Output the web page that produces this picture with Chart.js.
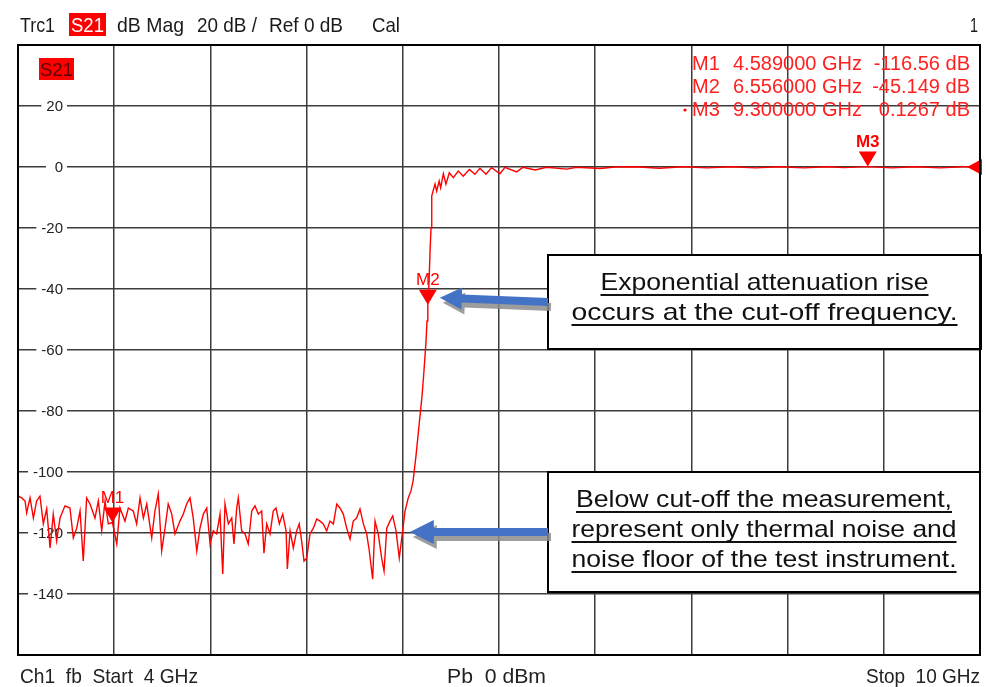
<!DOCTYPE html>
<html><head><meta charset="utf-8">
<script src="https://cdn.jsdelivr.net/npm/chart.js@4.4.1/dist/chart.umd.min.js"></script>
<style>html,body{margin:0;padding:0;background:#fff;}canvas{display:block;}</style>
</head><body>
<canvas id="c" width="986" height="687"></canvas>
<script>
// ---- Data ----
const freqGHz = [
4.000,
4.002,4.023,4.044,4.054,4.075,4.096,4.116,4.137,4.158,4.179,
4.200,4.220,4.241,4.262,4.293,4.324,4.345,4.366,4.387,4.407,
4.428,4.449,4.480,4.501,4.522,4.543,4.563,4.589,4.616,4.636,
4.667,4.688,4.719,4.740,4.761,4.782,4.803,4.834,4.854,4.875,
4.896,4.917,4.937,4.959,4.979,5.010,5.031,5.052,5.073,5.093,
5.115,5.135,5.156,5.177,5.198,5.218,5.239,5.260,5.277,5.291,
5.312,5.333,5.347,5.364,5.374,5.395,5.416,5.436,5.458,5.478,
5.499,5.520,5.534,5.551,5.572,5.592,5.609,5.630,5.651,5.672,
5.680,5.697,5.717,5.738,5.754,5.769,5.784,5.801,5.821,5.842,
5.863,5.884,5.904,5.925,5.946,5.967,5.988,6.008,6.029,6.050,
6.071,6.091,6.112,6.133,6.154,6.175,6.191,6.212,6.227,6.247,
6.268,6.283,6.300,6.320,6.337,6.358,6.378,6.399,6.414,6.434,
6.451,6.464,6.482,6.501,6.520,6.532,6.545,6.551,6.556,6.564,
6.570,6.576,6.579,6.582,6.588,6.601,6.611,6.627,6.636,6.653,
6.669,6.690,6.715,6.746,6.777,6.815,6.850,6.881,6.919,6.954,
7.006,7.037,7.110,7.150,7.225,7.297,7.422,7.485,7.630,7.724,
7.850,8.000,8.150,8.300,8.450,8.600,8.750,8.900,9.050,9.150,
9.300,9.450,9.600,9.750,9.900,10.000
];
const s21dB = [
-108.0,
-107.9,-108.5,-109.5,-113.4,-108.5,-115.1,-109.5,-107.9,-117.0,-112.1,
-124.9,-113.8,-122.6,-115.1,-111.1,-111.8,-121.6,-118.4,-112.8,-129.2,
-108.5,-110.5,-115.1,-109.5,-119.3,-109.5,-117.0,-116.56,-123.6,-111.8,
-116.1,-111.8,-112.8,-117.0,-108.5,-115.1,-110.5,-121.6,-112.8,-107.2,
-125.9,-118.4,-110.5,-113.8,-120.3,-116.1,-113.8,-110.5,-108.5,-115.1,
-125.9,-118.4,-113.8,-111.8,-123.6,-119.3,-120.3,-113.8,-133.4,-110.5,
-117.0,-115.1,-123.6,-111.8,-108.5,-119.3,-120.3,-123.6,-112.8,-111.1,
-113.8,-112.8,-126.6,-117.0,-120.3,-112.8,-111.8,-117.0,-113.8,-119.3,
-131.8,-119.3,-124.9,-119.3,-117.0,-122.6,-129.2,-128.2,-120.3,-118.4,
-115.4,-116.1,-117.0,-119.3,-116.1,-117.0,-110.5,-111.8,-113.8,-118.4,
-122.0,-116.1,-115.1,-112.1,-117.0,-120.3,-125.9,-135.1,-116.1,-120.3,
-128.2,-132.5,-118.4,-116.1,-114.4,-119.3,-128.2,-119.3,-112.8,-108.5,
-106.2,-103.0,-94.8,-84.9,-75.1,-66.9,-57.0,-50.5,-45.149,-37.4,
-27.5,-20.0,-12.8,-9.5,-8.0,-5.6,-7.9,-4.6,-6.8,-2.2,
-5.6,-1.9,-3.5,-1.3,-3.0,-0.8,-2.4,-0.4,-2.4,-0.2,
-2.2,-0.1,-1.6,-0.1,-1.0,-0.1,-0.7,-0.1,-0.5,0.0,
0.1,-0.4,0.1,-0.3,0.1,-0.3,0.1,-0.3,0.1,-0.2,
0.1267,-0.3,0.1,-0.3,0.1,0.05
];
const markerNames = ['M1','M2','M3'];
const markerFreqs = [4.589, 6.556, 9.3];
const markerValues = ['-116.56', '-45.149', '0.1267'];
const headerTexts = ['Trc1', 'S21', 'dB Mag', '20 dB /', 'Ref 0 dB', 'Cal', '1'];
const footerTexts = ['Ch1  fb  Start  4 GHz', 'Pb  0 dBm', 'Stop  10 GHz'];
const note1 = ['Exponential attenuation rise', 'occurs at the cut-off frequency.'];
const note2 = ['Below cut-off the measurement,', 'represent only thermal noise and', 'noise floor of the test instrument.'];

const FF = '"Liberation Sans", Arial, sans-serif';

function txt(ctx, s, x, y, size, color, align, w, bold) {
  ctx.save();
  ctx.font = (bold ? 'bold ' : '') + size + 'px ' + FF;
  const m = ctx.measureText(s).width;
  const sx = w ? w / m : 1;
  ctx.translate(x, y);
  ctx.scale(sx, 1);
  ctx.textAlign = align || 'left';
  ctx.textBaseline = 'alphabetic';
  ctx.fillStyle = color;
  ctx.fillText(s, 0, 0);
  ctx.restore();
}

function arrow(ctx, x1, y1, x2, y2, shaftW, headLen, headW, color) {
  const ang = Math.atan2(y2 - y1, x2 - x1);
  const len = Math.hypot(x2 - x1, y2 - y1);
  ctx.save();
  ctx.translate(x1, y1);
  ctx.rotate(ang);
  ctx.beginPath();
  ctx.moveTo(0, -shaftW / 2);
  ctx.lineTo(len - headLen, -shaftW / 2);
  ctx.lineTo(len - headLen, -headW / 2);
  ctx.lineTo(len, 0);
  ctx.lineTo(len - headLen, headW / 2);
  ctx.lineTo(len - headLen, shaftW / 2);
  ctx.lineTo(0, shaftW / 2);
  ctx.closePath();
  ctx.fillStyle = color;
  ctx.fill();
  ctx.restore();
}

function noteBox(ctx, x, y, w, h, lines, firstBase, step, size, tw) {
  ctx.save();
  ctx.fillStyle = '#fff';
  ctx.fillRect(x, y, w, h);
  ctx.strokeStyle = '#000';
  ctx.lineWidth = 2;
  ctx.strokeRect(x, y, w, h);
  const cx = x + w / 2;
  lines.forEach((s, i) => {
    const by = y + firstBase + i * step;
    txt(ctx, s, cx, by, size, '#111', 'center', tw[i]);
    ctx.fillStyle = '#111';
    ctx.fillRect(cx - tw[i] / 2, by + 4, tw[i], 2);
  });
  ctx.restore();
}

const vnaPlugin = {
  id: 'vna',
  beforeDatasetsDraw(chart) {
    const ctx = chart.ctx, ys = chart.scales.y, a = chart.chartArea;
    ctx.save();
    ys.ticks.forEach(t => {
      if (t.value <= ys.min || t.value >= ys.max) return;
      const py = ys.getPixelForValue(t.value);
      const label = String(t.value);
      ctx.font = '15px ' + FF;
      const w = Math.max(ctx.measureText(label).width, 12);
      const rx = a.left + 45;
      ctx.fillStyle = '#fff';
      ctx.fillRect(rx - w - 5, py - 3, w + 9, 6);
      txt(ctx, label, rx, py + 5, 15, '#222', 'right');
    });
    ctx.restore();
  },
  afterDatasetsDraw(chart) {
    const ctx = chart.ctx, xs = chart.scales.x, ys = chart.scales.y, a = chart.chartArea;
    ctx.save();
    // marker triangles
    markerNames.forEach((n, i) => {
      const f = markerFreqs[i];
      const v = parseFloat(markerValues[i]);
      const px = xs.getPixelForValue(f), py = ys.getPixelForValue(v);
      ctx.beginPath();
      ctx.moveTo(px, py);
      ctx.lineTo(px - 9, py - 15);
      ctx.lineTo(px + 9, py - 15);
      ctx.closePath();
      ctx.fillStyle = '#ff0000';
      ctx.fill();
      txt(ctx, n, px, py - 20, 17, '#ff0000', 'center', null, i === 2);
    });
    // reference level marker
    const ry = ys.getPixelForValue(0);
    ctx.beginPath();
    ctx.moveTo(a.right - 13, ry);
    ctx.lineTo(a.right + 2, ry - 8);
    ctx.lineTo(a.right + 2, ry + 8);
    ctx.closePath();
    ctx.fillStyle = '#ff0000';
    ctx.fill();
    // marker readout table
    markerNames.forEach((n, i) => {
      const by = a.top + 25 + i * 23;
      txt(ctx, n, 692, by, 20, '#ff2020', 'left');
      txt(ctx, markerFreqs[i].toFixed(6) + ' GHz', 733, by, 20, '#ff2020', 'left');
      txt(ctx, markerValues[i] + ' dB', 970, by, 20, '#ff2020', 'right');
    });
    ctx.beginPath();
    ctx.arc(685, a.top + 65, 1.6, 0, Math.PI * 2);
    ctx.fillStyle = '#ff0000';
    ctx.fill();
    // S21 tag in plot
    ctx.fillStyle = '#ff0000';
    ctx.fillRect(a.left + 21, a.top + 13, 35, 22);
    txt(ctx, 'S21', a.left + 38.5, a.top + 31, 19, '#5a0000', 'center', 33);
    // note boxes
    noteBox(ctx, 548, 255, 433, 94, note1, 35, 30, 24, [328, 386]);
    noteBox(ctx, 548, 472, 432, 120, note2, 35, 30, 24, [376, 385, 385]);
    // arrows (shadow then blue)
    const t1x = xs.getPixelForValue(markerFreqs[1]) + 12, t1y = ys.getPixelForValue(-45.149) - 7;
    const t2x = xs.getPixelForValue(6.4) + 7, t2y = ys.getPixelForValue(-120) - 1;
    arrow(ctx, 548 + 3, 302 + 5, t1x + 3, t1y + 5, 8, 22, 22, 'rgba(140,140,140,0.85)');
    arrow(ctx, 548, 302, t1x, t1y, 8, 22, 22, '#4472C4');
    arrow(ctx, 548 + 3, t2y + 5, t2x + 3, t2y + 5, 8, 24, 24, 'rgba(140,140,140,0.85)');
    arrow(ctx, 548, t2y, t2x, t2y, 8, 24, 24, '#4472C4');
    ctx.restore();
  },
  afterDraw(chart) {
    const ctx = chart.ctx, a = chart.chartArea;
    ctx.save();
    ctx.strokeStyle = '#000';
    ctx.lineWidth = 2;
    ctx.strokeRect(a.left, a.top, a.right - a.left, a.bottom - a.top);
    // header
    const hb = 32, hc = '#1a1a1a';
    txt(ctx, headerTexts[0], 20, hb, 21, hc, 'left', 35);
    ctx.fillStyle = '#ff0000';
    ctx.fillRect(69, 13, 37, 23);
    txt(ctx, headerTexts[1], 87.5, hb, 21, '#fff', 'center', 33);
    txt(ctx, headerTexts[2], 117, hb, 21, hc, 'left', 67);
    txt(ctx, headerTexts[3], 197, hb, 21, hc, 'left', 60);
    txt(ctx, headerTexts[4], 269, hb, 21, hc, 'left', 74);
    txt(ctx, headerTexts[5], 372, hb, 21, hc, 'left', 28);
    txt(ctx, headerTexts[6], 978, hb, 21, hc, 'right', 8);
    // footer
    const fb = 683, fc = '#222';
    txt(ctx, footerTexts[0], 20, fb, 21, fc, 'left', 178);
    txt(ctx, footerTexts[1], 447, fb, 21, fc, 'left', 99);
    txt(ctx, footerTexts[2], 980, fb, 21, fc, 'right', 114);
    ctx.restore();
  }
};

const gridOpts = { color: '#3c3c3c', lineWidth: 1.5, drawTicks: false };
new Chart(document.getElementById('c').getContext('2d'), {
  type: 'line',
  data: {
    datasets: [{
      data: freqGHz.map((f, i) => ({ x: f, y: s21dB[i] })),
      borderColor: '#ff0000',
      borderWidth: 1.4,
      pointRadius: 0,
      tension: 0,
      fill: false
    }]
  },
  options: {
    responsive: false,
    devicePixelRatio: 1,
    animation: false,
    events: [],
    layout: { padding: { left: 18, top: 45, right: 6, bottom: 32 } },
    plugins: { legend: { display: false }, tooltip: { enabled: false } },
    scales: {
      x: { type: 'linear', min: 4, max: 10, ticks: { display: false, stepSize: 0.6 }, grid: gridOpts, border: { display: false } },
      y: { type: 'linear', min: -160, max: 40, ticks: { display: false, stepSize: 20 }, grid: gridOpts, border: { display: false } }
    }
  },
  plugins: [vnaPlugin]
});
</script>
</body></html>
